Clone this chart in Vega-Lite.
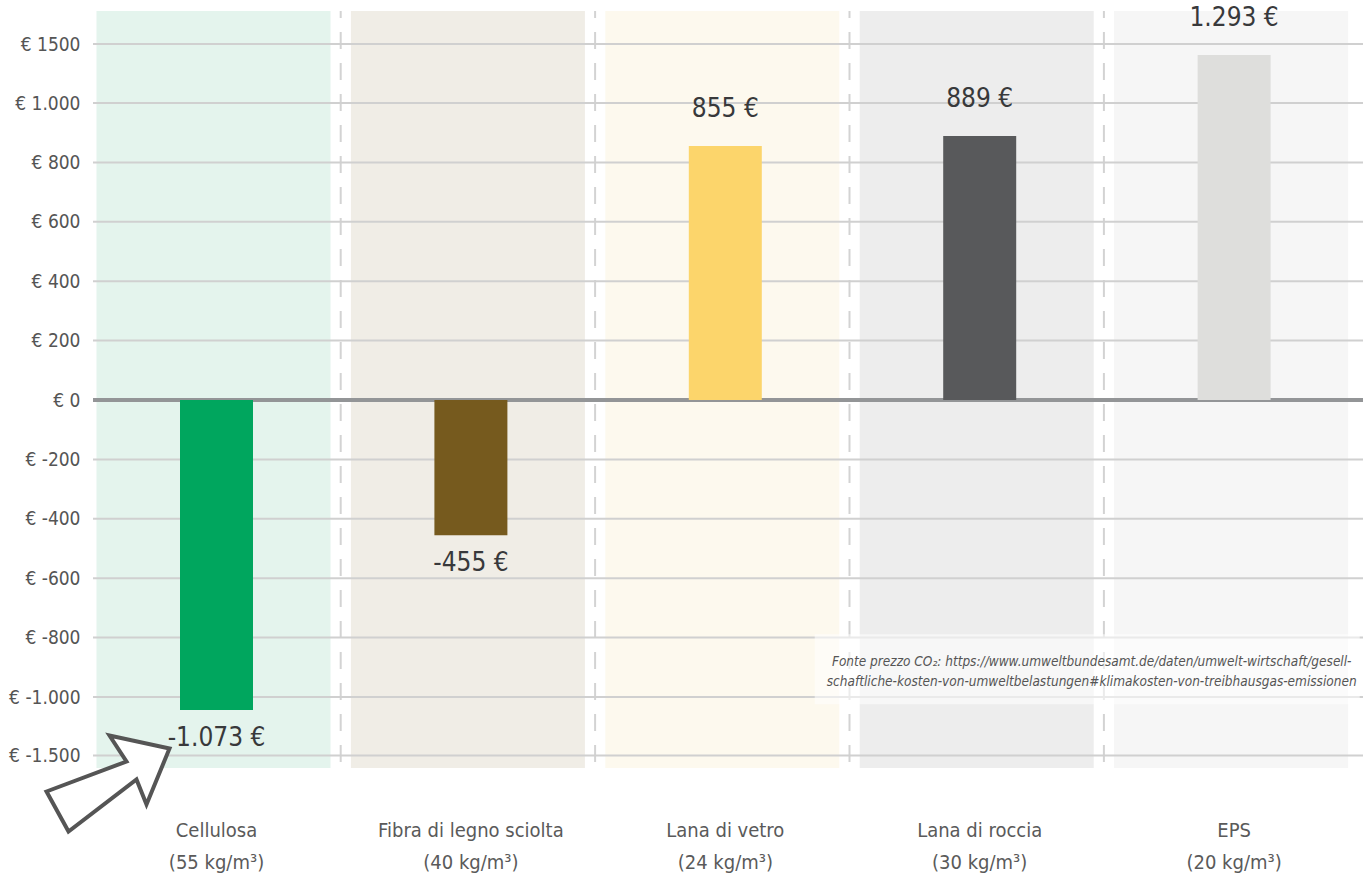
{
  "$schema": "https://vega.github.io/schema/vega-lite/v6.json",
  "autosize": "none",
  "width": 1270,
  "height": 757,
  "padding": {"left": 93, "top": 11, "right": 5, "bottom": 111},
  "background": "white",
  "config": {
    "view": {"stroke": null},
    "font": "'DejaVu Sans Condensed', Roboto, sans-serif",
    "locale": {"number": {"decimal": ",", "thousands": ".", "grouping": [3], "currency": ["", " €"], "minus": "-"}},
    "axisX": {"domain": false, "ticks": false, "grid": false, "labelFont": "'DejaVu Sans Condensed', Roboto, sans-serif", "labelFontSize": 20, "labelColor": "#5a5a5a", "labelPadding": 52, "labelLineHeight": 32, "labelLimit": 400, "labelAngle": 0},
    "axisY": {"domain": false, "ticks": false, "grid": false, "labelFont": "'DejaVu Sans Condensed', Roboto, sans-serif", "labelFontSize": 19, "labelColor": "#555555", "labelPadding": 13}
  },
  "datasets": {
    "bars": [
      {"material": "Cellulosa (55 kg/m³)", "value": -1073},
      {"material": "Fibra di legno sciolta (40 kg/m³)", "value": -455},
      {"material": "Lana di vetro (24 kg/m³)", "value": 855},
      {"material": "Lana di roccia (30 kg/m³)", "value": 889},
      {"material": "EPS (20 kg/m³)", "value": 1293}
    ],
    "ticks": [
      {"value": -1500}, {"value": -1000}, {"value": -800}, {"value": -600}, {"value": -400}, {"value": -200},
      {"value": 0}, {"value": 200}, {"value": 400}, {"value": 600}, {"value": 800}, {"value": 1000}, {"value": 1500}
    ],
    "source": [
      {"note": "Fonte prezzo CO₂: https://www.umweltbundesamt.de/daten/umwelt-wirtschaft/gesell-\nschaftliche-kosten-von-umweltbelastungen#klimakosten-von-treibhausgas-emissionen"}
    ]
  },
  "layer": [
    {
      "data": {"name": "bars"},
      "mark": {"type": "bar", "width": 234, "xOffset": -3, "opacity": 1},
      "encoding": {
        "x": {"field": "material", "type": "nominal", "sort": null,
              "scale": {"domain": ["Cellulosa (55 kg/m³)", "Fibra di legno sciolta (40 kg/m³)", "Lana di vetro (24 kg/m³)", "Lana di roccia (30 kg/m³)", "EPS (20 kg/m³)"], "range": [-3.7, 1268.3], "paddingInner": 0, "paddingOuter": 0},
              "axis": {"title": null, "labelExpr": "[slice(datum.label, 0, indexof(datum.label, ' (')), slice(datum.label, indexof(datum.label, ' (') + 1)]"}},
        "fill": {"field": "material", "type": "nominal", "legend": null,
                 "scale": {"domain": ["Cellulosa (55 kg/m³)", "Fibra di legno sciolta (40 kg/m³)", "Lana di vetro (24 kg/m³)", "Lana di roccia (30 kg/m³)", "EPS (20 kg/m³)"], "range": ["#e4f4ed", "#f0ede6", "#fdf9ee", "#ededed", "#f6f6f6"]}}
      }
    },
    {
      "data": {"name": "bars"},
      "transform": [{"filter": "datum.material != 'Cellulosa (55 kg/m³)'"}],
      "mark": {"type": "rule", "xOffset": -3, "color": "#d3d3d3", "strokeWidth": 2, "strokeDash": [17, 14], "strokeDashOffset": 10},
      "encoding": {
        "x": {"field": "material", "type": "nominal", "sort": null, "bandPosition": 0,
              "scale": {"domain": ["Cellulosa (55 kg/m³)", "Fibra di legno sciolta (40 kg/m³)", "Lana di vetro (24 kg/m³)", "Lana di roccia (30 kg/m³)", "EPS (20 kg/m³)"], "range": [-3.7, 1268.3], "paddingInner": 0, "paddingOuter": 0},
              "axis": {"title": null, "labelExpr": "[slice(datum.label, 0, indexof(datum.label, ' (')), slice(datum.label, indexof(datum.label, ' (') + 1)]"}}
      }
    },
    {
      "data": {"name": "ticks"},
      "transform": [{"filter": "datum.value != 0"}],
      "mark": {"type": "rule", "color": "#d0d0d0", "strokeWidth": 2},
      "encoding": {
        "y": {"field": "value", "type": "quantitative",
              "scale": {"type": "linear", "domain": [-1500, -1073, -1000, 1000, 1293, 1500], "range": [744.5, 699, 686, 92, 44, 33], "nice": false, "zero": false},
              "axis": {"title": null, "values": [-1500, -1000, -800, -600, -400, -200, 0, 200, 400, 600, 800, 1000, 1500],
                       "labelExpr": "datum.value == 1500 ? '€ 1500' : datum.value == 1000 ? '€ 1.000' : datum.value == -1000 ? '€ -1.000' : datum.value == -1500 ? '€ -1.500' : '€ ' + datum.value"}}
      }
    },
    {
      "data": {"name": "ticks"},
      "transform": [{"filter": "datum.value == 0"}],
      "mark": {"type": "rule", "color": "#939597", "strokeWidth": 4},
      "encoding": {
        "y": {"field": "value", "type": "quantitative",
              "scale": {"type": "linear", "domain": [-1500, -1073, -1000, 1000, 1293, 1500], "range": [744.5, 699, 686, 92, 44, 33], "nice": false, "zero": false},
              "axis": {"title": null, "values": [-1500, -1000, -800, -600, -400, -200, 0, 200, 400, 600, 800, 1000, 1500],
                       "labelExpr": "datum.value == 1500 ? '€ 1500' : datum.value == 1000 ? '€ 1.000' : datum.value == -1000 ? '€ -1.000' : datum.value == -1500 ? '€ -1.500' : '€ ' + datum.value"}}
      }
    },
    {
      "data": {"name": "bars"},
      "mark": {"type": "bar", "size": 73, "opacity": 1},
      "encoding": {
        "x": {"field": "material", "type": "nominal", "sort": null,
              "scale": {"domain": ["Cellulosa (55 kg/m³)", "Fibra di legno sciolta (40 kg/m³)", "Lana di vetro (24 kg/m³)", "Lana di roccia (30 kg/m³)", "EPS (20 kg/m³)"], "range": [-3.7, 1268.3], "paddingInner": 0, "paddingOuter": 0},
              "axis": {"title": null, "labelExpr": "[slice(datum.label, 0, indexof(datum.label, ' (')), slice(datum.label, indexof(datum.label, ' (') + 1)]"}},
        "y": {"field": "value", "type": "quantitative",
              "scale": {"type": "linear", "domain": [-1500, -1073, -1000, 1000, 1293, 1500], "range": [744.5, 699, 686, 92, 44, 33], "nice": false, "zero": false},
              "axis": {"title": null, "values": [-1500, -1000, -800, -600, -400, -200, 0, 200, 400, 600, 800, 1000, 1500],
                       "labelExpr": "datum.value == 1500 ? '€ 1500' : datum.value == 1000 ? '€ 1.000' : datum.value == -1000 ? '€ -1.000' : datum.value == -1500 ? '€ -1.500' : '€ ' + datum.value"}},
        "y2": {"datum": 0},
        "color": {"field": "material", "type": "nominal", "legend": null,
                  "scale": {"domain": ["Cellulosa (55 kg/m³)", "Fibra di legno sciolta (40 kg/m³)", "Lana di vetro (24 kg/m³)", "Lana di roccia (30 kg/m³)", "EPS (20 kg/m³)"], "range": ["#00a65e", "#765a1e", "#fcd56b", "#58595b", "#dededc"]}}
      }
    },
    {
      "data": {"name": "bars"},
      "transform": [{"filter": "datum.value > 0"}],
      "mark": {"type": "text", "baseline": "alphabetic", "align": "center", "dy": -29, "fontSize": 26, "color": "#38393b", "font": "'DejaVu Sans Condensed', Roboto, sans-serif"},
      "encoding": {
        "x": {"field": "material", "type": "nominal", "sort": null,
              "scale": {"domain": ["Cellulosa (55 kg/m³)", "Fibra di legno sciolta (40 kg/m³)", "Lana di vetro (24 kg/m³)", "Lana di roccia (30 kg/m³)", "EPS (20 kg/m³)"], "range": [-3.7, 1268.3], "paddingInner": 0, "paddingOuter": 0},
              "axis": {"title": null, "labelExpr": "[slice(datum.label, 0, indexof(datum.label, ' (')), slice(datum.label, indexof(datum.label, ' (') + 1)]"}},
        "y": {"field": "value", "type": "quantitative",
              "scale": {"type": "linear", "domain": [-1500, -1073, -1000, 1000, 1293, 1500], "range": [744.5, 699, 686, 92, 44, 33], "nice": false, "zero": false},
              "axis": {"title": null, "values": [-1500, -1000, -800, -600, -400, -200, 0, 200, 400, 600, 800, 1000, 1500],
                       "labelExpr": "datum.value == 1500 ? '€ 1500' : datum.value == 1000 ? '€ 1.000' : datum.value == -1000 ? '€ -1.000' : datum.value == -1500 ? '€ -1.500' : '€ ' + datum.value"}},
        "text": {"field": "value", "type": "quantitative", "format": "$,d"}
      }
    },
    {
      "data": {"name": "bars"},
      "transform": [{"filter": "datum.value < 0"}],
      "mark": {"type": "text", "baseline": "top", "align": "center", "dy": 15, "fontSize": 26, "color": "#38393b", "font": "'DejaVu Sans Condensed', Roboto, sans-serif"},
      "encoding": {
        "x": {"field": "material", "type": "nominal", "sort": null,
              "scale": {"domain": ["Cellulosa (55 kg/m³)", "Fibra di legno sciolta (40 kg/m³)", "Lana di vetro (24 kg/m³)", "Lana di roccia (30 kg/m³)", "EPS (20 kg/m³)"], "range": [-3.7, 1268.3], "paddingInner": 0, "paddingOuter": 0},
              "axis": {"title": null, "labelExpr": "[slice(datum.label, 0, indexof(datum.label, ' (')), slice(datum.label, indexof(datum.label, ' (') + 1)]"}},
        "y": {"field": "value", "type": "quantitative",
              "scale": {"type": "linear", "domain": [-1500, -1073, -1000, 1000, 1293, 1500], "range": [744.5, 699, 686, 92, 44, 33], "nice": false, "zero": false},
              "axis": {"title": null, "values": [-1500, -1000, -800, -600, -400, -200, 0, 200, 400, 600, 800, 1000, 1500],
                       "labelExpr": "datum.value == 1500 ? '€ 1500' : datum.value == 1000 ? '€ 1.000' : datum.value == -1000 ? '€ -1.000' : datum.value == -1500 ? '€ -1.500' : '€ ' + datum.value"}},
        "text": {"field": "value", "type": "quantitative", "format": "$,d"}
      }
    },
    {
      "data": {"name": "source"},
      "mark": {"type": "point", "shape": "M-277,-33H268V37H-277Z", "size": 4, "filled": true, "fill": "white", "fillOpacity": 0.55, "opacity": 1, "strokeWidth": 0, "xOffset": 112},
      "encoding": {
        "x": {"datum": "Lana di roccia (30 kg/m³)", "type": "nominal",
              "scale": {"domain": ["Cellulosa (55 kg/m³)", "Fibra di legno sciolta (40 kg/m³)", "Lana di vetro (24 kg/m³)", "Lana di roccia (30 kg/m³)", "EPS (20 kg/m³)"], "range": [-3.7, 1268.3], "paddingInner": 0, "paddingOuter": 0},
              "axis": {"title": null, "labelExpr": "[slice(datum.label, 0, indexof(datum.label, ' (')), slice(datum.label, indexof(datum.label, ' (') + 1)]"}},
        "y": {"datum": -900, "type": "quantitative",
              "scale": {"type": "linear", "domain": [-1500, -1073, -1000, 1000, 1293, 1500], "range": [744.5, 699, 686, 92, 44, 33], "nice": false, "zero": false},
              "axis": {"title": null, "values": [-1500, -1000, -800, -600, -400, -200, 0, 200, 400, 600, 800, 1000, 1500],
                       "labelExpr": "datum.value == 1500 ? '€ 1500' : datum.value == 1000 ? '€ 1.000' : datum.value == -1000 ? '€ -1.000' : datum.value == -1500 ? '€ -1.500' : '€ ' + datum.value"}}
      }
    },
    {
      "data": {"name": "source"},
      "mark": {"type": "text", "lineBreak": "\n", "lineHeight": 20, "align": "center", "baseline": "middle", "fontSize": 13.5, "fontStyle": "italic", "color": "#555555", "font": "'DejaVu Sans Condensed', Roboto, sans-serif", "xOffset": 112},
      "encoding": {
        "x": {"datum": "Lana di roccia (30 kg/m³)", "type": "nominal",
              "scale": {"domain": ["Cellulosa (55 kg/m³)", "Fibra di legno sciolta (40 kg/m³)", "Lana di vetro (24 kg/m³)", "Lana di roccia (30 kg/m³)", "EPS (20 kg/m³)"], "range": [-3.7, 1268.3], "paddingInner": 0, "paddingOuter": 0},
              "axis": {"title": null, "labelExpr": "[slice(datum.label, 0, indexof(datum.label, ' (')), slice(datum.label, indexof(datum.label, ' (') + 1)]"}},
        "y": {"datum": -883, "type": "quantitative",
              "scale": {"type": "linear", "domain": [-1500, -1073, -1000, 1000, 1293, 1500], "range": [744.5, 699, 686, 92, 44, 33], "nice": false, "zero": false},
              "axis": {"title": null, "values": [-1500, -1000, -800, -600, -400, -200, 0, 200, 400, 600, 800, 1000, 1500],
                       "labelExpr": "datum.value == 1500 ? '€ 1500' : datum.value == 1000 ? '€ 1.000' : datum.value == -1000 ? '€ -1.000' : datum.value == -1500 ? '€ -1.500' : '€ ' + datum.value"}},
        "text": {"field": "note", "type": "nominal"}
      }
    },
    {
      "data": {"name": "source"},
      "mark": {"type": "point", "shape": "M-170,36L-90,6L-107,-20L-47,-7L-70,49L-80,24L-148,76Z", "size": 4, "filled": true, "fill": "white", "opacity": 1, "stroke": "#555555", "strokeWidth": 4, "strokeJoin": "miter"},
      "encoding": {
        "x": {"datum": "Cellulosa (55 kg/m³)", "type": "nominal",
              "scale": {"domain": ["Cellulosa (55 kg/m³)", "Fibra di legno sciolta (40 kg/m³)", "Lana di vetro (24 kg/m³)", "Lana di roccia (30 kg/m³)", "EPS (20 kg/m³)"], "range": [-3.7, 1268.3], "paddingInner": 0, "paddingOuter": 0},
              "axis": {"title": null, "labelExpr": "[slice(datum.label, 0, indexof(datum.label, ' (')), slice(datum.label, indexof(datum.label, ' (') + 1)]"}},
        "y": {"datum": -1500, "type": "quantitative",
              "scale": {"type": "linear", "domain": [-1500, -1073, -1000, 1000, 1293, 1500], "range": [744.5, 699, 686, 92, 44, 33], "nice": false, "zero": false},
              "axis": {"title": null, "values": [-1500, -1000, -800, -600, -400, -200, 0, 200, 400, 600, 800, 1000, 1500],
                       "labelExpr": "datum.value == 1500 ? '€ 1500' : datum.value == 1000 ? '€ 1.000' : datum.value == -1000 ? '€ -1.000' : datum.value == -1500 ? '€ -1.500' : '€ ' + datum.value"}}
      }
    }
  ]
}
